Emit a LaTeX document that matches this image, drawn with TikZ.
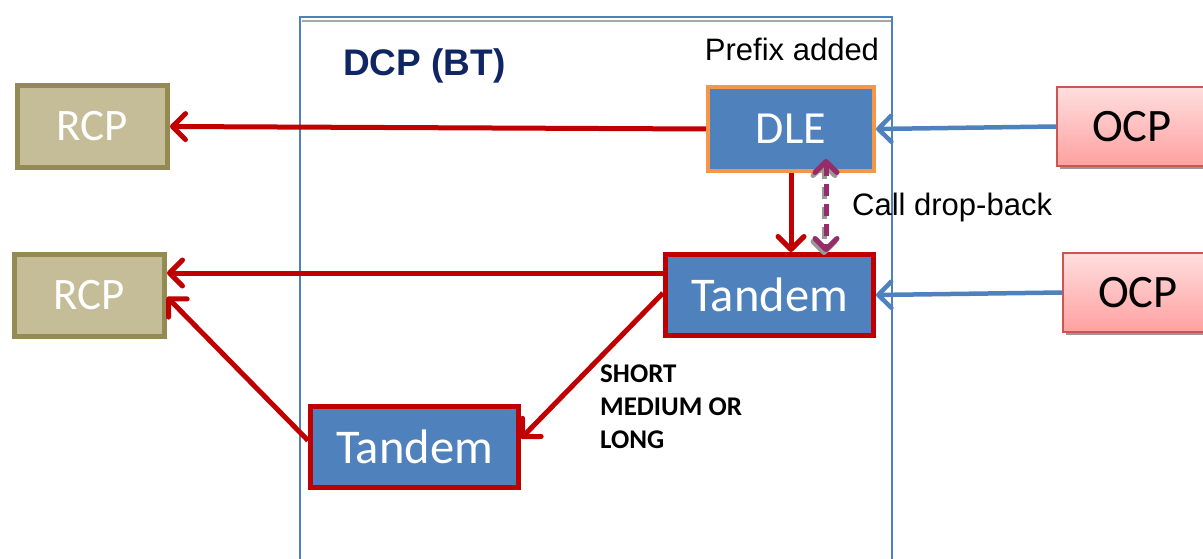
\documentclass[tikz,border=0pt]{standalone}
\usepackage{fontspec}
\newfontfamily\calfont{Carlito}
\newfontfamily\arialfont{Liberation Sans}
\usetikzlibrary{arrows.meta,shadows,calc}

\definecolor{boxblue}{RGB}{79,129,189}
\definecolor{tandemred}{RGB}{192,0,0}
\definecolor{dleorange}{RGB}{247,150,70}
\definecolor{rcpfill}{RGB}{196,189,151}
\definecolor{rcpline}{RGB}{148,138,84}
\definecolor{ocptop}{RGB}{255,222,222}
\definecolor{ocpbot}{RGB}{255,160,160}
\definecolor{ocpline}{RGB}{205,85,80}
\definecolor{navy}{RGB}{16,37,99}
\definecolor{dropback}{RGB}{150,45,105}

\tikzset{
  rcpbox/.style={draw=rcpline, fill=rcpfill, line width=5pt, minimum width=150pt,
    minimum height=82pt, inner sep=0pt, text=white, font=\calfont\fontsize{45}{50}\selectfont},
  blueunit/.style={fill=boxblue, inner sep=0pt, text=white,
    font=\calfont\fontsize{46}{50}\selectfont},
  dlebox/.style={blueunit, draw=dleorange, line width=4pt, minimum width=166pt, minimum height=84pt},
  tandembox/.style={blueunit, draw=tandemred, line width=5pt, minimum width=208pt, minimum height=81pt,
    font=\calfont\fontsize{48.5}{50}\selectfont},
  ocpbox/.style={draw=ocpline, line width=1.5pt, top color=ocptop, bottom color=ocpbot,
    minimum width=150pt, minimum height=79pt, inner sep=0pt, text=black,
    font=\calfont\fontsize{46.5}{50}\selectfont,
    drop shadow={shadow xshift=3pt, shadow yshift=-3pt, fill=black!40, opacity=1}},
  tip/.style={-{Straight Barb[length=13pt,width=26pt,round]}},
  redflow/.style={tip, draw=tandemred, line width=5pt},
  blueflow/.style={tip, draw=boxblue, line width=4.5pt},
  dropflow/.style={{Straight Barb[length=11pt,width=22pt,round]}-{Straight Barb[length=11pt,width=22pt,round]},
    line width=5pt, dash pattern=on 12pt off 8pt},
  frameline/.style={draw=boxblue, line width=2pt},
}

\begin{document}
\begin{tikzpicture}[x=1pt, y=-1pt]
\useasboundingbox (0,0) rectangle (1203,559);

% exchange boundary
\draw[frameline] (300,562) -- (300,17.5) -- (892,17.5) -- (892,562);
\draw[black!35, line width=2pt] (301.5,21.5) -- (890.5,21.5);

% titles
\node[anchor=west, inner sep=0pt, text=navy, font=\arialfont\bfseries\fontsize{37}{40}\selectfont]
  (dcp) at (343,66) {DCP (BT)};
\node[inner sep=0pt, font=\arialfont\fontsize{31}{36}\selectfont] (prefix) at (792,49) {Prefix added};

% units
\node[rcpbox] (rcp1) at (92.5,126.5) {RCP};
\node[rcpbox] (rcp2) at (89.5,295) {RCP};
\node[dlebox] (dle) at (791,129) {DLE};
\node[tandembox] (t1) at (769.5,295) {Tandem};
\node[tandembox] (t2) at (414.5,446.5) {Tandem};
\node[ocpbox] (ocp1) at (1132,126.5) {OCP};
\node[ocpbox] (ocp2) at (1138,292.5) {OCP};

% labels
\node[anchor=west, inner sep=0pt, font=\arialfont\fontsize{31}{36}\selectfont] (drop) at (852,207) {Call drop-back};
\node[anchor=north west, inner sep=0pt, align=left, font=\calfont\bfseries\fontsize{27}{33}\selectfont]
  (range) at (600,365) {SHORT\\MEDIUM OR\\LONG};

% incoming calls
\draw[blueflow] (ocp1.west) -- (dle.east);
\draw[blueflow] (ocp2.west) -- (t1.east);

% onward routing
\draw[redflow] (dle.west) -- (rcp1.east);
\draw[redflow] ([yshift=22pt]t1.west) -- ([yshift=22pt]t1.west -| rcp2.east);
\draw[redflow] ([yshift=2pt]t1.west) -- ([yshift=8pt]t2.east);
\draw[redflow] ([yshift=6pt]t2.west) -- ([yshift=-2pt]rcp2.east);
\draw[redflow] (dle.south) -- (dle.south |- t1.north);

% call drop-back between DLE and tandem
\coordinate (dbtop) at ([xshift=35pt,yshift=14pt]dle.south);
\coordinate (dbbot) at (dbtop |- t1.north);
\draw[dropflow, draw=black!40] ([xshift=-2pt,yshift=-3pt]dbtop) -- ([xshift=-2pt,yshift=-3pt]dbbot);
\draw[dropflow, draw=dropback] (dbtop) -- (dbbot);
\end{tikzpicture}
\end{document}
